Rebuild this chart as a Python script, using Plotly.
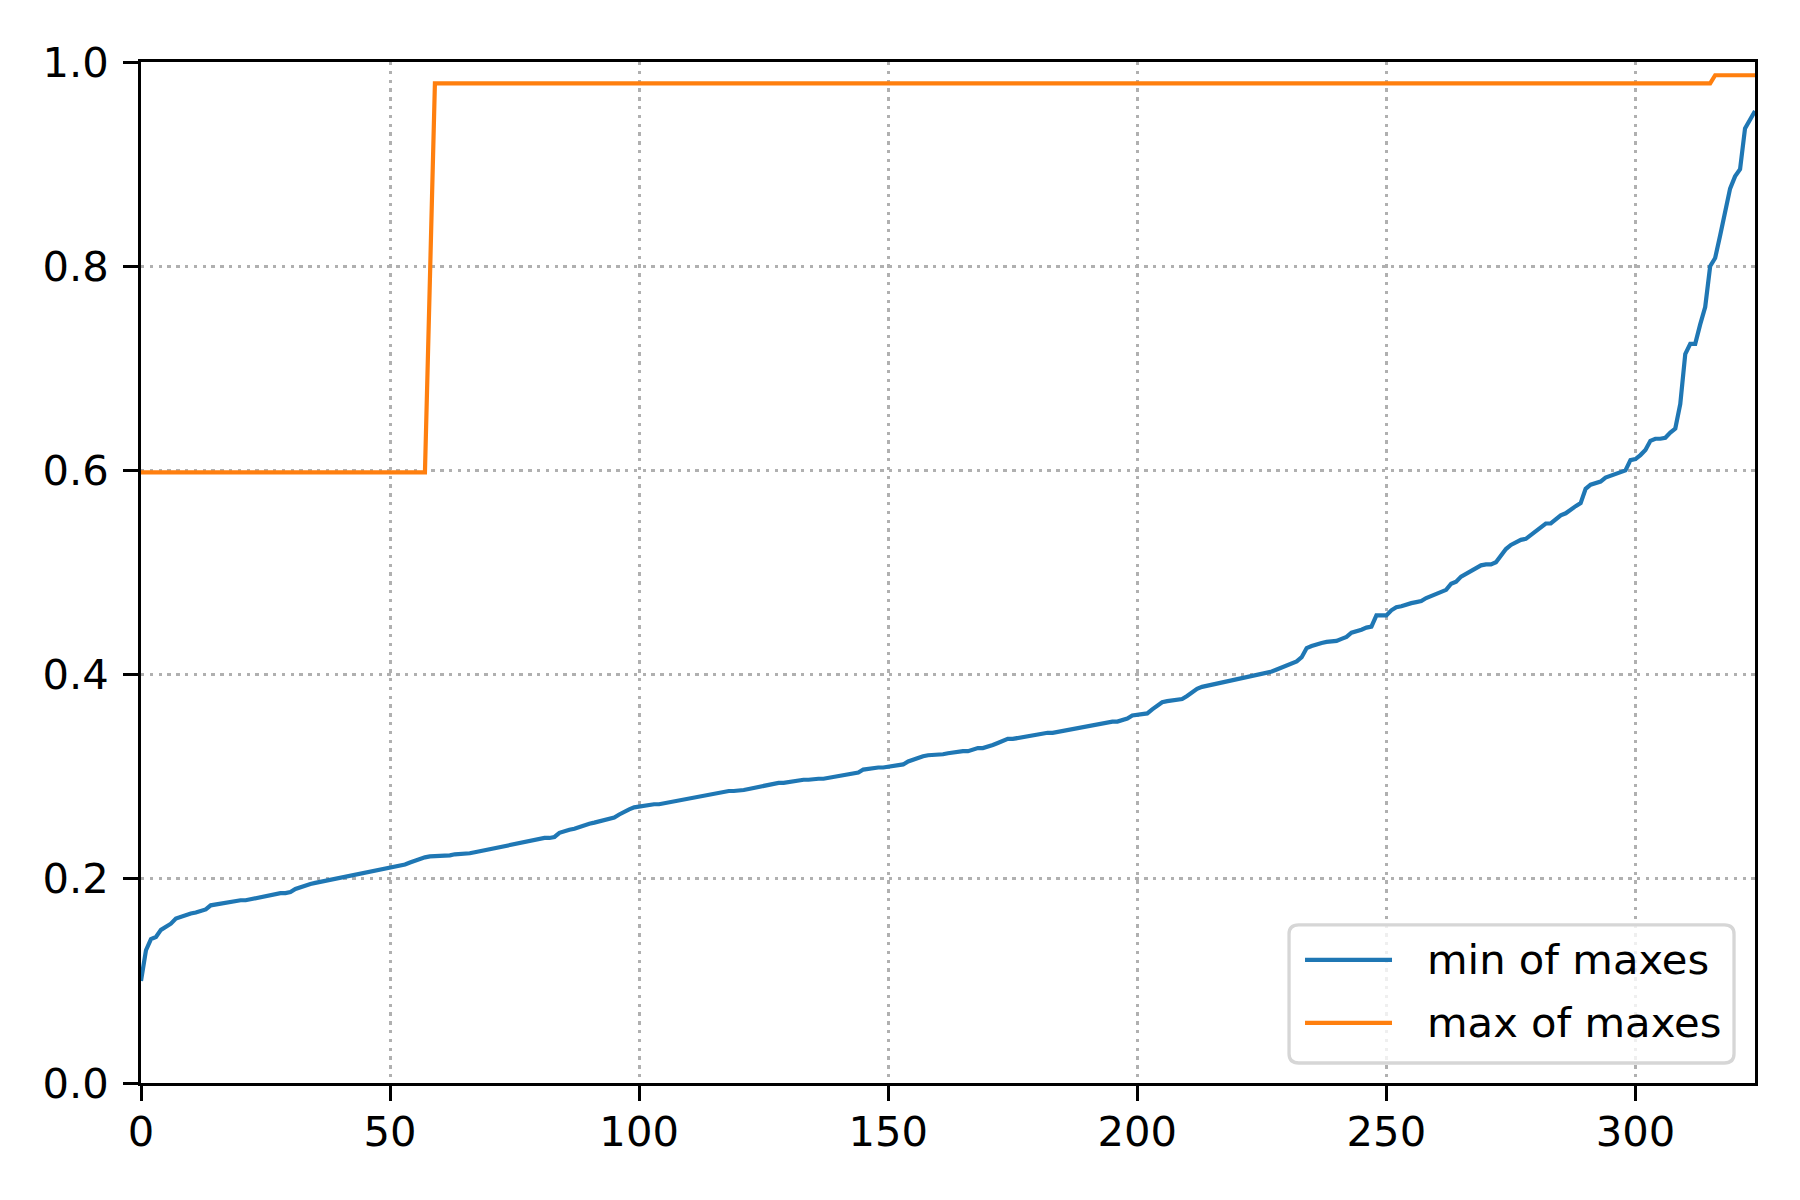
import plotly.graph_objects as go

# x positions (sample index)
x_idx = list(range(325))

# min of maxes
min_of_maxes = [
    0.100, 0.130, 0.141, 0.143, 0.150, 0.153, 0.156, 0.161, 0.163, 0.165,
    0.166, 0.167, 0.169, 0.170, 0.174, 0.175, 0.176, 0.177, 0.178, 0.178,
    0.179, 0.179, 0.180, 0.182, 0.183, 0.184, 0.185, 0.185, 0.186, 0.186,
    0.187, 0.190, 0.192, 0.194, 0.195, 0.196, 0.197, 0.198, 0.199, 0.200,
    0.201, 0.202, 0.203, 0.203, 0.204, 0.205, 0.207, 0.208, 0.209, 0.210,
    0.211, 0.212, 0.213, 0.214, 0.216, 0.218, 0.220, 0.221, 0.222, 0.222,
    0.223, 0.223, 0.223, 0.224, 0.224, 0.224, 0.225, 0.226, 0.227, 0.228,
    0.229, 0.230, 0.231, 0.232, 0.234, 0.235, 0.235, 0.236, 0.237, 0.238,
    0.239, 0.240, 0.240, 0.241, 0.245, 0.247, 0.248, 0.249, 0.251, 0.253,
    0.254, 0.255, 0.256, 0.257, 0.259, 0.260, 0.263, 0.266, 0.268, 0.270,
    0.271, 0.272, 0.272, 0.273, 0.273, 0.274, 0.275, 0.276, 0.277, 0.278,
    0.279, 0.279, 0.280, 0.281, 0.282, 0.284, 0.285, 0.285, 0.286, 0.286,
    0.286, 0.287, 0.288, 0.289, 0.290, 0.291, 0.292, 0.294, 0.294, 0.294,
    0.295, 0.296, 0.296, 0.297, 0.297, 0.298, 0.298, 0.298, 0.299, 0.300,
    0.300, 0.301, 0.302, 0.303, 0.304, 0.307, 0.308, 0.308, 0.309, 0.309,
    0.310, 0.311, 0.311, 0.312, 0.315, 0.317, 0.319, 0.320, 0.321, 0.321,
    0.322, 0.322, 0.323, 0.324, 0.325, 0.325, 0.325, 0.327, 0.328, 0.328,
    0.329, 0.331, 0.333, 0.335, 0.337, 0.337, 0.338, 0.338, 0.339, 0.340,
    0.341, 0.342, 0.343, 0.343, 0.344, 0.345, 0.346, 0.347, 0.347, 0.348,
    0.350, 0.351, 0.352, 0.353, 0.353, 0.354, 0.354, 0.355, 0.357, 0.360,
    0.361, 0.361, 0.362, 0.366, 0.370, 0.373, 0.374, 0.375, 0.375, 0.376,
    0.379, 0.383, 0.386, 0.388, 0.389, 0.390, 0.391, 0.393, 0.394, 0.395,
    0.396, 0.397, 0.398, 0.398, 0.399, 0.400, 0.402, 0.403, 0.405, 0.407,
    0.409, 0.411, 0.413, 0.417, 0.426, 0.428, 0.430, 0.431, 0.432, 0.432,
    0.433, 0.435, 0.437, 0.441, 0.442, 0.444, 0.446, 0.447, 0.458, 0.458,
    0.458, 0.463, 0.466, 0.467, 0.469, 0.470, 0.471, 0.472, 0.475, 0.477,
    0.478, 0.481, 0.483, 0.489, 0.491, 0.496, 0.499, 0.501, 0.505, 0.507,
    0.508, 0.508, 0.510, 0.517, 0.523, 0.527, 0.530, 0.532, 0.533, 0.537,
    0.541, 0.545, 0.548, 0.548, 0.552, 0.556, 0.558, 0.562, 0.565, 0.568,
    0.582, 0.586, 0.587, 0.589, 0.593, 0.595, 0.597, 0.598, 0.600, 0.610,
    0.611, 0.615, 0.620, 0.629, 0.631, 0.631, 0.632, 0.637, 0.641, 0.665,
    0.714, 0.724, 0.724, 0.743, 0.760, 0.800, 0.808, 0.830, 0.855, 0.876,
    0.888, 0.895, 0.935, 0.943, 0.952,
]

# max of maxes: flat runs
max_of_maxes = [0.598] * 58 + [0.788] + [0.979] * 257 + [0.987] * 9

legend_names = ["min of maxes", "max of maxes"]
colors = ["#1f77b4", "#ff7f0e"]
x_ticks = [0, 50, 100, 150, 200, 250, 300]
y_ticks = [0.0, 0.2, 0.4, 0.6, 0.8, 1.0]

FONT = "DejaVu Sans"
FS = 41.7
LW = 4.2

fig = go.Figure()
fig.add_trace(go.Scatter(x=x_idx, y=min_of_maxes, mode="lines", name=legend_names[0],
                         line=dict(color=colors[0], width=LW)))
fig.add_trace(go.Scatter(x=x_idx, y=max_of_maxes, mode="lines", name=legend_names[1],
                         line=dict(color=colors[1], width=LW)))

axis_common = dict(showline=True, linecolor="black", linewidth=3.3, mirror=True,
                   ticks="outside", ticklen=14.6, tickwidth=3.3, tickcolor="black",
                   showgrid=True, gridcolor="#b0b0b0", gridwidth=3.3, griddash="3.3px,5.5px",
                   zeroline=False, tickfont=dict(family=FONT, size=FS, color="black"))

fig.update_xaxes(range=[0, 324], tickvals=x_ticks, ticklabelstandoff=-5, **axis_common)
fig.update_yaxes(range=[0, 1], tickvals=y_ticks, tickformat=".1f", ticklabelstandoff=6,
                 **axis_common)

# matplotlib-style legend box, lower right (paper coords)
bx0, bx1, by0, by1 = 0.7113, 0.9870, 0.0196, 0.1548
rx, ry = 0.006, 0.009
box_path = (f"M {bx0 + rx},{by0} L {bx1 - rx},{by0} Q {bx1},{by0} {bx1},{by0 + ry} "
            f"L {bx1},{by1 - ry} Q {bx1},{by1} {bx1 - rx},{by1} "
            f"L {bx0 + rx},{by1} Q {bx0},{by1} {bx0},{by1 - ry} "
            f"L {bx0},{by0 + ry} Q {bx0},{by0} {bx0 + rx},{by0} Z")
fig.add_shape(type="path", path=box_path, xref="paper", yref="paper", layer="above",
              fillcolor="rgba(255,255,255,0.8)", line=dict(color="#d6d6d6", width=3.3))
row_y = [0.1205, 0.0588]
for name, col, yy in zip(legend_names, colors, row_y):
    fig.add_shape(type="line", xref="paper", yref="paper", layer="above",
                  x0=0.7212, x1=0.7751, y0=yy, y1=yy, line=dict(color=col, width=LW))
    fig.add_annotation(x=0.7955, y=yy, xref="paper", yref="paper", text=name,
                       showarrow=False, xanchor="left", yanchor="middle",
                       font=dict(family=FONT, size=FS, color="black"))

fig.update_layout(width=1800, height=1200,
                  margin=dict(l=133, r=53, t=54, b=125),
                  plot_bgcolor="white", paper_bgcolor="white",
                  font=dict(family=FONT, size=FS, color="black"),
                  showlegend=False)

fig.write_html("out.html")
